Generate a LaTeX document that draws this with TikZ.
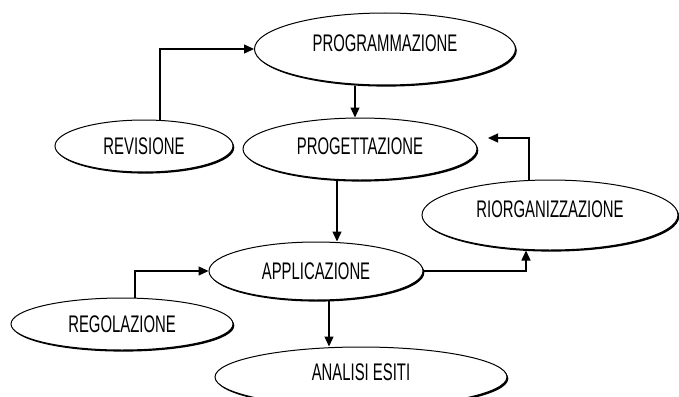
\documentclass[tikz,border=0pt]{standalone}
\usepackage{fontspec}
\setmainfont{Liberation Sans}[FakeStretch=0.62]
\usetikzlibrary{arrows.meta,shapes.geometric,shadows}
\newcommand{\upby}[2]{\raisebox{#1}[\height][\depth]{#2}}
\begin{document}
\begin{tikzpicture}[x=1pt,y=-1pt,
  oval/.style={ellipse,draw=black,line width=1pt,fill=white,inner sep=0pt,
    font=\fontsize{24}{26}\selectfont,
    drop shadow={shadow xshift=1.3pt,shadow yshift=-1.6pt,fill=black,opacity=1}},
  arr/.style={line width=1.3pt,-{Triangle[length=10pt,width=9pt]}}]
\useasboundingbox[fill=white] (0,0) rectangle (679,396);
\node[oval,minimum width=261pt,minimum height=72pt] (prog) at (385,49) {\upby{6pt}{PROGRAMMAZIONE}};
\node[oval,minimum width=234pt,minimum height=62pt] (proj) at (360,149) {\upby{3pt}{PROGETTAZIONE}};
\node[oval,minimum width=178pt,minimum height=52pt] (rev) at (144,146) {REVISIONE};
\node[oval,minimum width=256pt,minimum height=70pt] (rio) at (550,215) {\upby{6pt}{RIORGANIZZAZIONE}};
\node[oval,minimum width=214pt,minimum height=58pt] (app) at (316,271) {APPLICAZIONE};
\node[oval,minimum width=222pt,minimum height=52pt] (reg) at (122,324) {REGOLAZIONE};
\node[oval,minimum width=292pt,minimum height=60pt] (ana) at (361,377) {\upby{5pt}{ANALISI ESITI}};
\coordinate (ret) at (488,138);
\draw[arr] ([xshift=16pt]rev.north) |- (prog.west);
\draw[arr] ([xshift=-30pt]prog.south) -- ([xshift=-30pt]prog.south |- proj.north);
\draw[arr] ([xshift=-23pt]proj.south) -- ([xshift=-23pt]proj.south |- app.north);
\draw[arr] ([xshift=13pt]reg.north) |- (app.west);
\draw[arr] (app.east) -| ([xshift=-24pt]rio.south);
\draw[arr] ([xshift=-21pt]rio.north) |- (ret);
\draw[arr] ([xshift=13pt]app.south) -- ([xshift=13pt]app.south |- ana.north);
\end{tikzpicture}
\end{document}
